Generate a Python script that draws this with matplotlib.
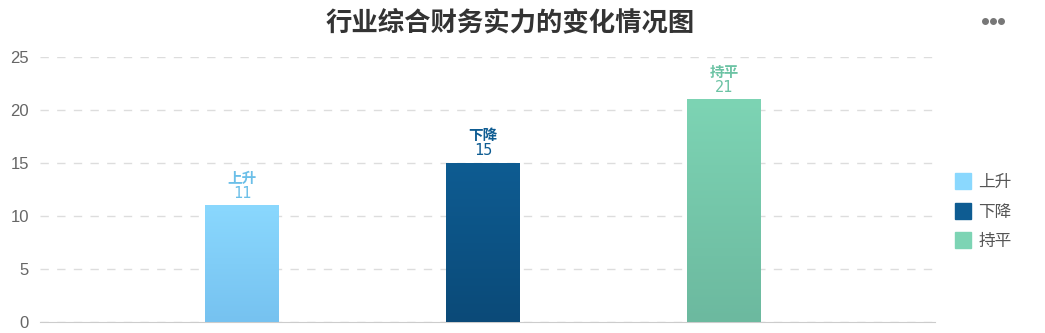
import numpy as np
import matplotlib.pyplot as plt
from matplotlib.colors import LinearSegmentedColormap
from matplotlib.lines import Line2D
from matplotlib.font_manager import FontProperties

plt.rcParams['font.family'] = ['Noto Sans CJK SC', 'DejaVu Sans']

# data
categories = ['上升', '下降', '持平']
values = [11, 15, 21]
top_colors = ['#8ad8fe', '#0e5c92', '#7dd4b4']
bottom_colors = ['#76c2f0', '#0b4a78', '#6cb99f']
label_colors = ['#6bbfe8', '#0e5c92', '#6cc3a4']
title = '行业综合财务实力的变化情况图'

fig = plt.figure(figsize=(10.45, 3.33), dpi=100)
ax = fig.add_axes([40 / 1045, 11 / 333, 895 / 1045, 265 / 333])

x = np.arange(len(categories))
width = 0.307
bars = ax.bar(x, values, width=width, color=top_colors, zorder=2)

# vertical gradient on each bar
grad = np.linspace(0, 1, 256).reshape(-1, 1)
for b, c1, c2 in zip(bars, top_colors, bottom_colors):
    cmap = LinearSegmentedColormap.from_list('g', [c2, c1])
    x0, y0 = b.get_x(), b.get_y()
    im = ax.imshow(grad, cmap=cmap, aspect='auto', origin='lower',
                   extent=[x0, x0 + b.get_width(), y0, y0 + b.get_height()], zorder=3)
    im.set_clip_path(b)

mono = FontProperties(family='DejaVu Sans Mono', size=11)
for xi, v, name, col in zip(x, values, categories, label_colors):
    ax.text(xi, v + 0.45, str(v), ha='center', va='bottom',
            fontproperties=mono, color=col, zorder=4)
    ax.text(xi, v + 1.85, name, ha='center', va='bottom', fontsize=10.5,
            fontweight='bold', color=col, zorder=4)

ax.set_xlim(-0.838, 2.876)
ax.set_ylim(0, 25)
ax.set_yticks([0, 5, 10, 15, 20, 25])
ax.yaxis.grid(True, linestyle=(0, (6, 6)), color='#dddddd', linewidth=1, zorder=0)
ax.set_axisbelow(True)
ax.set_xticks([])
for s in ['top', 'right', 'left']:
    ax.spines[s].set_visible(False)
ax.spines['bottom'].set_color('#cccccc')
ax.tick_params(axis='y', length=0, labelsize=12, labelcolor='#666666', pad=8)
for t in ax.get_yticklabels():
    t.set_family(['Liberation Sans'])

fig.text(510 / 1045, 1 - 23 / 333, title, ha='center', va='center', fontsize=19,
         fontweight='bold', color='#333333')
# menu dots
fig.add_artist(Line2D([985 / 1045, 993 / 1045, 1001 / 1045], [1 - 21 / 333] * 3,
                      transform=fig.transFigure, linestyle='', marker='o',
                      markersize=4, color='#777777'))

handles = [Line2D([], [], marker='s', linestyle='', markersize=11, color=c)
           for c in top_colors]
fig.legend(handles, categories, loc='center left', bbox_to_anchor=(940 / 1045, 1 - 212 / 333),
           frameon=False, fontsize=12, labelcolor='#555555', handletextpad=0.4,
           labelspacing=0.75, handlelength=1.0)

fig.savefig('out.png', dpi=100)
